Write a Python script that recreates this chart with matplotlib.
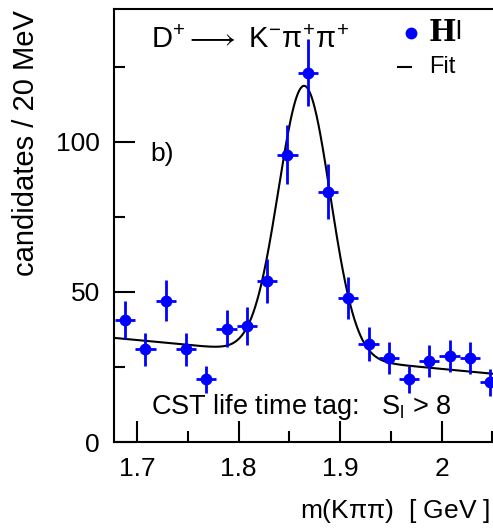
import numpy as np
import matplotlib
matplotlib.use("Agg")
import matplotlib.pyplot as plt

plt.rcParams['font.family'] = ['Liberation Sans', 'DejaVu Sans']
plt.rcParams['mathtext.fontset'] = 'custom'
plt.rcParams['mathtext.rm'] = 'Liberation Sans'
plt.rcParams['mathtext.it'] = 'Liberation Sans'
plt.rcParams['mathtext.sf'] = 'Liberation Sans'

# Data: bin centres (GeV) and candidates / 20 MeV
mass = [1.688, 1.708, 1.728, 1.748, 1.768, 1.788, 1.808, 1.828, 1.848, 1.868,
        1.888, 1.908, 1.928, 1.948, 1.968, 1.988, 2.008, 2.028, 2.048]
counts = [40.7, 30.9, 47.1, 30.9, 20.9, 37.7, 38.7, 53.7, 95.7, 123.1,
          83.4, 47.9, 32.7, 27.9, 20.9, 27.0, 28.7, 27.9, 19.9]
errors = list(np.sqrt(counts))

# Fit parameters: Gaussian + linear background
fit_mean = 1.8647
fit_sigma = 0.0255
fit_amp = 90.0
bg_at_ref = 34.7
bg_ref = 1.677
bg_slope = -32.0

fig = plt.figure(figsize=(4.93, 5.29), dpi=100)
ax = fig.add_axes([114/493, 1 - 442/529, (493 - 114)/493 + 0.02, (442 - 9)/529])

xf = np.linspace(1.677, 2.06, 600)
yf = bg_at_ref + bg_slope * (xf - bg_ref) + fit_amp * np.exp(-0.5 * ((xf - fit_mean) / fit_sigma) ** 2)
ax.plot(xf, yf, color='black', lw=1.5, zorder=2)

ax.errorbar(mass, counts, yerr=errors, xerr=0.01, fmt='o', color='#0000ff',
            ms=7.5, elinewidth=2, capsize=0, zorder=3)

ax.set_xlim(1.677, 2.0605)
ax.set_ylim(0, 144.3)

ax.set_xticks([1.7, 1.8, 1.9, 2.0])
ax.set_xticklabels(['1.7', '1.8', '1.9', '2'])
ax.set_xticks([1.75, 1.85, 1.95, 2.05], minor=True)
ax.set_yticks([0, 50, 100])
ax.set_yticks([25, 75, 125], minor=True)
ax.tick_params(which='both', direction='in', labelsize=19, width=1.5,
               top=False, right=False)
ax.tick_params(which='major', length=15)
ax.tick_params(which='minor', length=8)
ax.tick_params(axis='x', pad=11)
ax.tick_params(axis='y', pad=10)
for s in ['left', 'bottom', 'top']:
    ax.spines[s].set_linewidth(1.5)
ax.spines['right'].set_visible(False)

ax.set_ylabel('candidates / 20 MeV', fontsize=21)
ax.yaxis.set_label_coords(-(114 - 42)/379, (442 - 143)/433)
fig.text(490/493, 1 - 497/529, r'm(K$\pi\pi$)  [ GeV ]', fontsize=19,
         ha='right', va='top')

ax.text(1.713, 138.5, r'D$^{+}\longrightarrow$ K$^{-}\pi^{+}\pi^{+}$', fontsize=21,
        va='top', ha='left')
ax.text(1.713, 96, 'b)', fontsize=19, va='center', ha='left')
ax.text(1.713, 11.5, r'CST life time tag:   S$_{\rm l}$ > 8', fontsize=19.5,
        va='center', ha='left')

# legend
ax.plot([1.970], [136.3], 'o', color='#0000ff', ms=7.5)
ax.text(1.987, 136.5, 'H', fontsize=21, fontweight='bold', family='DejaVu Serif',
        va='center', ha='left')
ax.text(2.014, 136.5, 'l', fontsize=19, va='center', ha='left')
ax.plot([1.957, 1.970], [125, 125], color='black', lw=1.5)
ax.text(1.988, 125, 'Fit', fontsize=17, va='center', ha='left')

fig.savefig('out.png', dpi=100)
